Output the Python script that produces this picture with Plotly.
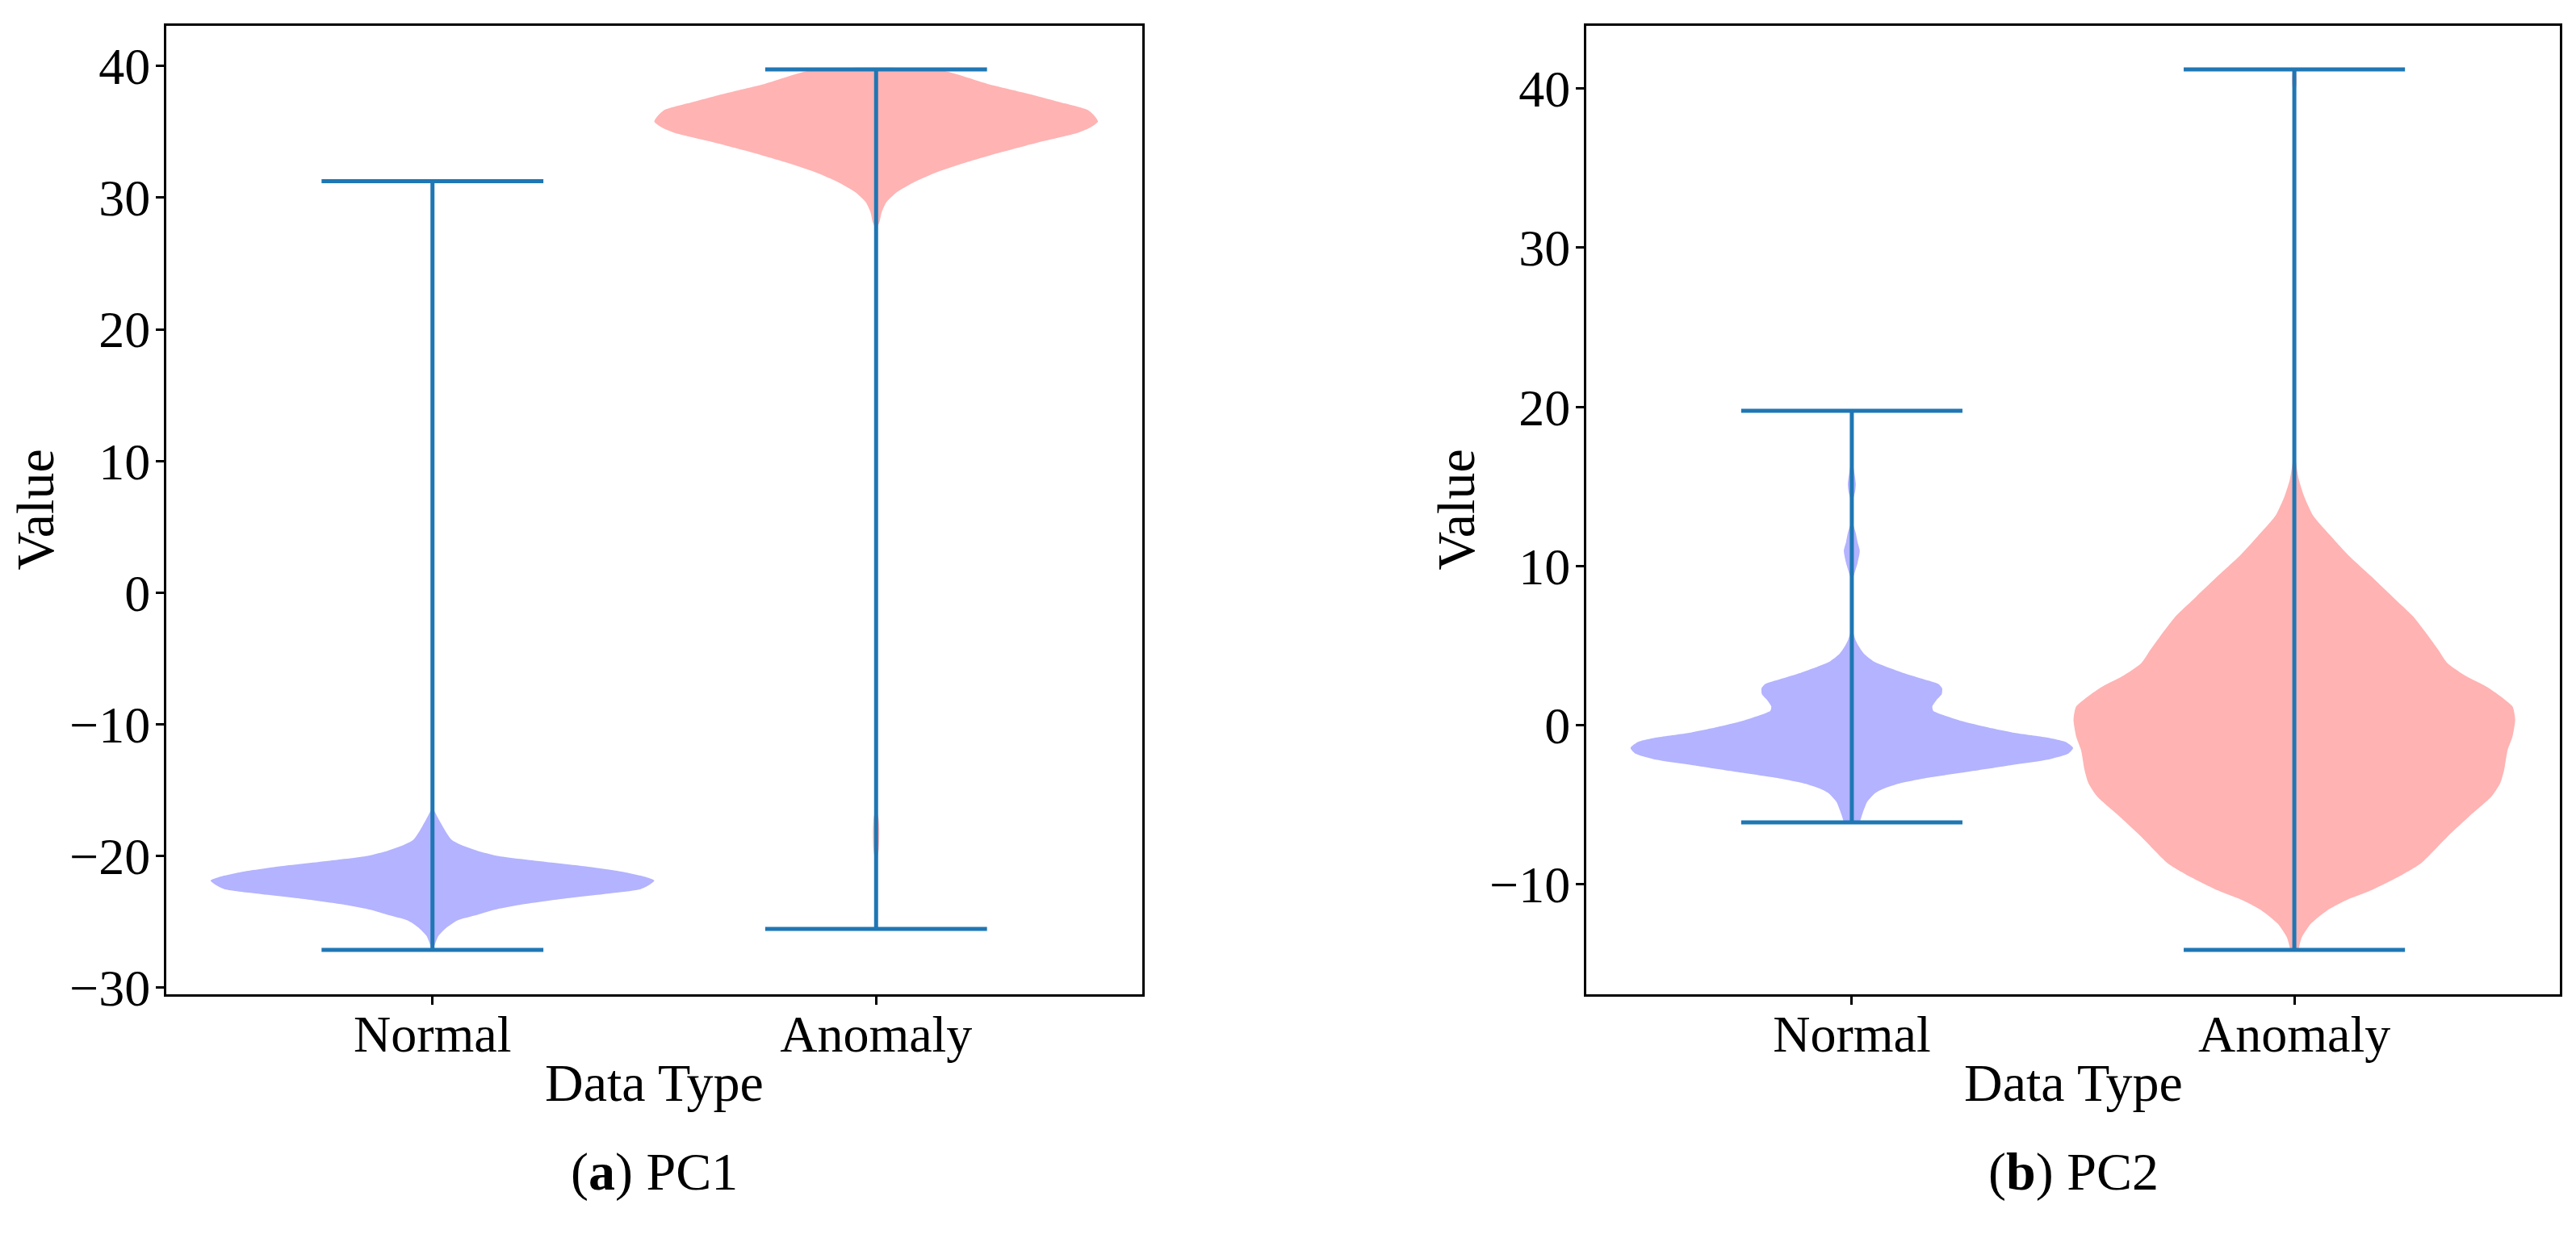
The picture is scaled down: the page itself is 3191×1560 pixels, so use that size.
import numpy as np
import plotly.graph_objects as go

# ---------------- data ----------------
categories = ["Normal", "Anomaly"]
positions = [1, 2]

# PC1 extrema
pc1_normal_min, pc1_normal_max = -27.15, 31.25
pc1_anomaly_min, pc1_anomaly_max = -25.55, 39.74
# PC2 extrema
pc2_normal_min, pc2_normal_max = -6.1, 19.76
pc2_anomaly_min, pc2_anomaly_max = -14.12, 41.2

# violin profiles: value -> half width (x units, max 0.5)
pc1_normal_vals = [-27.15, -26.94, -26.1, -25.5, -24.9, -24.49, -24.08, -23.67, -23.27, -22.86,
                   -22.55, -22.24, -21.88, -21.6, -21.2, -20.8, -20.4, -20.0, -19.6, -19.18,
                   -18.78, -17.76, -16.7, -16.33]
pc1_normal_hw = [0.0, 0.003, 0.013, 0.03, 0.056, 0.10, 0.142, 0.207, 0.293, 0.40,
                 0.467, 0.487, 0.5, 0.48, 0.426, 0.345, 0.24, 0.146, 0.10, 0.065,
                 0.043, 0.023, 0.006, 0.0]

# anomaly PC1: small lower mode and main upper body
pc1_anomaly_low_vals = [-20.6, -19.5, -18.0, -17.0, -16.6]
pc1_anomaly_low_hw = [0.0, 0.006, 0.007, 0.005, 0.0]
pc1_anomaly_vals = [27.65, 28.15, 28.9, 29.65, 30.4, 31.15, 31.9, 32.65, 33.4, 34.15,
                    34.9, 35.28, 35.78, 36.15, 36.65, 37.15, 37.9, 38.65, 39.74]
pc1_anomaly_hw = [0.0, 0.0075, 0.0126, 0.023, 0.046, 0.084, 0.134, 0.20, 0.276, 0.36,
                  0.452, 0.48, 0.50, 0.494, 0.478, 0.427, 0.343, 0.251, 0.138]

pc2_normal_vals = [-6.1, -5.56, -4.8, -4.24, -3.96, -3.68, -3.3, -2.93, -2.55, -2.18,
                   -1.8, -1.43, -1.05, -0.77, -0.49, -0.12, 0.26, 0.63, 0.91, 1.19,
                   1.57, 1.94, 2.32, 2.6, 2.88, 3.26, 3.63, 4.0, 4.48, 4.95,
                   5.32, 5.7, 6.07, 6.45, 9.07, 9.45, 10.2, 10.95, 11.5, 12.07,
                   12.54, 12.82, 14.04, 14.7, 15.17, 15.82, 16.48, 16.76, 19.76]
pc2_normal_hw = [0.018, 0.024, 0.035, 0.054, 0.074, 0.104, 0.171, 0.26, 0.35, 0.44,
                 0.488, 0.50, 0.483, 0.44, 0.37, 0.305, 0.249, 0.208, 0.184, 0.182,
                 0.191, 0.203, 0.204, 0.195, 0.163, 0.119, 0.082, 0.050, 0.028, 0.016,
                 0.009, 0.0045, 0.0015, 0.0005, 0.001, 0.005, 0.013, 0.018, 0.013, 0.009,
                 0.004, 0.001, 0.002, 0.0075, 0.009, 0.006, 0.002, 0.0, 0.0]

pc2_anomaly_vals = [-14.12, -13.32, -12.48, -11.64, -11.0, -10.38, -9.54, -8.7, -7.86, -7.0,
                    -5.76, -4.5, -3.66, -2.82, -1.55, -0.71, 0.34, 1.18, 1.8, 2.44,
                    3.07, 3.9, 4.75, 5.6, 6.85, 8.1, 9.37, 10.6, 11.9, 13.15,
                    14.4, 15.46, 16.5, 17.35, 39.5, 40.3, 41.2]
pc2_anomaly_hw = [0.009, 0.017, 0.037, 0.074, 0.117, 0.173, 0.234, 0.285, 0.316, 0.346,
                  0.394, 0.445, 0.465, 0.474, 0.482, 0.493, 0.499, 0.493, 0.467, 0.433,
                  0.389, 0.346, 0.325, 0.303, 0.268, 0.221, 0.173, 0.125, 0.082, 0.043,
                  0.022, 0.01, 0.004, 0.001, 0.001, 0.005, 0.003]

tick_pc1 = [-30, -20, -10, 0, 10, 20, 30, 40]
tick_pc2 = [-10, 0, 10, 20, 30, 40]

# ---------------- styling ----------------
BLUE_FILL = "#b3b3ff"
RED_FILL = "#ffb3b3"
LINE = "#1f77b4"
FONT = "Liberation Serif"
W, H = 3191, 1560

fig = go.Figure()


def add_violin(xa, ya, pos, vals, hw, fill):
    vals = np.asarray(vals, float)
    hw = np.asarray(hw, float)
    xs = np.concatenate([pos + hw, (pos - hw)[::-1]])
    ys = np.concatenate([vals, vals[::-1]])
    fig.add_trace(go.Scatter(x=xs, y=ys, mode="lines", fill="toself", fillcolor=fill,
                             line=dict(width=0, color=fill, shape="spline", smoothing=0.6),
                             xaxis=xa, yaxis=ya, hoverinfo="skip", showlegend=False))


def add_extrema(xa, ya, pos, vmin, vmax):
    fig.add_trace(go.Scatter(x=[pos, pos], y=[vmin, vmax], mode="lines",
                             line=dict(color=LINE, width=5), xaxis=xa, yaxis=ya,
                             showlegend=False, hoverinfo="skip"))
    for v in (vmin, vmax):
        fig.add_trace(go.Scatter(x=[pos - 0.25, pos + 0.25], y=[v, v], mode="lines",
                                 line=dict(color=LINE, width=5), xaxis=xa, yaxis=ya,
                                 showlegend=False, hoverinfo="skip"))


# PC1 (left)
add_violin("x", "y", positions[0], pc1_normal_vals, pc1_normal_hw, BLUE_FILL)
add_violin("x", "y", positions[1], pc1_anomaly_low_vals, pc1_anomaly_low_hw, RED_FILL)
add_violin("x", "y", positions[1], pc1_anomaly_vals, pc1_anomaly_hw, RED_FILL)
add_extrema("x", "y", positions[0], pc1_normal_min, pc1_normal_max)
add_extrema("x", "y", positions[1], pc1_anomaly_min, pc1_anomaly_max)

# PC2 (right)
add_violin("x2", "y2", positions[0], pc2_normal_vals, pc2_normal_hw, BLUE_FILL)
add_violin("x2", "y2", positions[1], pc2_anomaly_vals, pc2_anomaly_hw, RED_FILL)
add_extrema("x2", "y2", positions[0], pc2_normal_min, pc2_normal_max)
add_extrema("x2", "y2", positions[1], pc2_anomaly_min, pc2_anomaly_max)


def pad_range(lo, hi):
    m = 0.05 * (hi - lo)
    return [lo - m, hi + m]


axis_common = dict(showline=True, mirror=True, linecolor="black", linewidth=3,
                   ticks="outside", ticklen=10, tickwidth=3, tickcolor="black",
                   showgrid=False, zeroline=False,
                   tickfont=dict(family=FONT, size=64, color="black"))

y_top = 1 - 24 / H
y_bot = 1 - 1246 / H
dom1 = [198 / W, 1407 / W]
dom2 = [1957 / W, 3163 / W]

fig.update_layout(
    width=W, height=H, margin=dict(l=0, r=0, t=0, b=0),
    paper_bgcolor="white", plot_bgcolor="white", showlegend=False,
    xaxis=dict(domain=dom1, range=[0.4, 2.6], tickvals=positions, ticktext=categories,
               anchor="y", ticklabelstandoff=-18, **axis_common),
    yaxis=dict(domain=[y_bot, y_top],
               range=pad_range(pc1_normal_min, pc1_anomaly_max),
               tickvals=tick_pc1, anchor="x", ticklabelstandoff=-6, **axis_common),
    xaxis2=dict(domain=dom2, range=[0.4, 2.6], tickvals=positions, ticktext=categories,
                anchor="y2", ticklabelstandoff=-18, **axis_common),
    yaxis2=dict(domain=[y_bot, y_top],
                range=pad_range(pc2_anomaly_min, pc2_anomaly_max),
                tickvals=tick_pc2, anchor="x2", ticklabelstandoff=-6, **axis_common),
)

lab_font = dict(family=FONT, size=66, color="black")
y_mid = (y_top + y_bot) / 2
annotations = [
    dict(text="Value", x=36 / W, y=y_mid, textangle=-90),
    dict(text="Value", x=1796 / W, y=y_mid, textangle=-90),
    dict(text="Data Type", x=(dom1[0] + dom1[1]) / 2, y=1 - 1358 / H),
    dict(text="Data Type", x=(dom2[0] + dom2[1]) / 2, y=1 - 1358 / H),
    dict(text="(<b>a</b>) PC1", x=(dom1[0] + dom1[1]) / 2, y=1 - 1470 / H),
    dict(text="(<b>b</b>) PC2", x=(dom2[0] + dom2[1]) / 2, y=1 - 1470 / H),
]
for a in annotations:
    fig.add_annotation(xref="paper", yref="paper", showarrow=False,
                       xanchor="center", yanchor="middle", font=lab_font, **a)

fig.write_html("out.html")
